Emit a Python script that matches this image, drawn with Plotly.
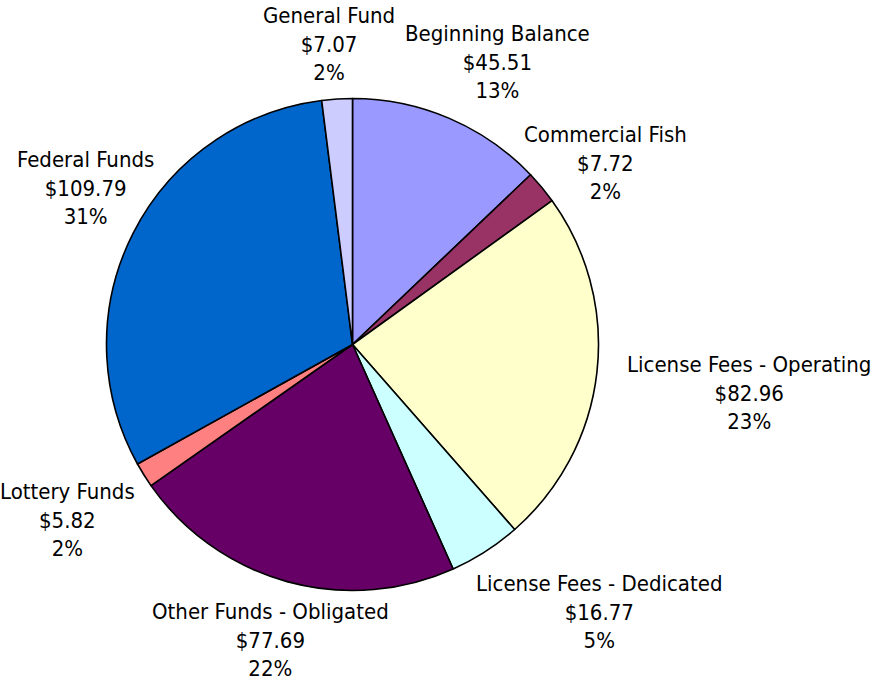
import plotly.graph_objects as go

labels = ["Beginning Balance", "Commercial Fish", "License Fees - Operating",
          "License Fees - Dedicated", "Other Funds - Obligated", "Lottery Funds",
          "Federal Funds", "General Fund"]
values = [45.51, 7.72, 82.96, 16.77, 77.69, 5.82, 109.79, 7.07]
colors = ["#9999FF", "#993366", "#FFFFCC", "#CCFFFF", "#660066", "#FF8080",
          "#0066CC", "#CCCCFF"]

# label block centres (pixels, from top-left) -- layout only
label_pos = [(498, 62), (605, 163), (749, 393), (599, 612),
             (270, 640), (67, 520), (85, 188), (329, 44)]

W, H = 872, 682
cx, cy, r = 352.5, 344.5, 246

total = sum(values)
fig = go.Figure(go.Pie(
    labels=labels, values=values, sort=False, direction="clockwise", rotation=0,
    marker=dict(colors=colors, line=dict(color="black", width=1.6)),
    textinfo="none", showlegend=False,
    domain=dict(x=[(cx - r) / W, (cx + r) / W],
                y=[(H - cy - r) / H, (H - cy + r) / H]),
))
for lab, val, (px, py) in zip(labels, values, label_pos):
    fig.add_annotation(
        x=px / W, y=1 - py / H, xref="paper", yref="paper",
        xanchor="center", yanchor="middle", showarrow=False, align="center",
        text=f"{lab}<br>${val:.2f}<br>{round(100 * val / total)}%",
        font=dict(family="DejaVu Sans Condensed, DejaVu Sans", size=22, color="black"),
    )
fig.update_layout(width=W, height=H, margin=dict(l=0, r=0, t=0, b=0),
                  paper_bgcolor="white", plot_bgcolor="white")
fig.write_html("out.html", config={"displayModeBar": False},
               post_script="document.body.style.margin='0';document.body.style.overflow='hidden';")
